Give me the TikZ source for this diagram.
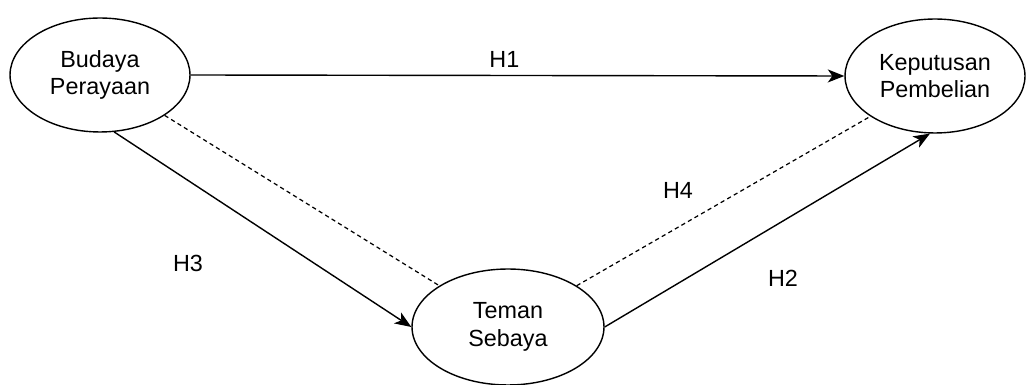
\documentclass[tikz,border=0pt]{standalone}
\usepackage{fontspec}
\setmainfont{Liberation Sans}
\usetikzlibrary{arrows.meta, positioning, shapes.geometric}

\begin{document}
\begin{tikzpicture}[
  x=0.02cm, y=0.02cm,
  font=\fontsize{13.3}{15.6}\selectfont,
  >={Stealth[length=3.3mm, width=2.6mm, inset=0.9mm]},
  var/.style={ellipse, draw, line width=0.8pt, align=center, inner sep=0pt,
              minimum width=3.6cm, minimum height=2.28cm},
  arr/.style={->, line width=0.8pt},
  link/.style={line width=0.7pt, dash pattern=on 2.4pt off 1.9pt},
  hyp/.style={inner sep=1pt},
  ]
\useasboundingbox (0,0) rectangle (1031,385);

\node[var] (bp) at (100,310) {Budaya\\Perayaan};
\node[var] (kp) at (935,309) {Keputusan\\Pembelian};
\node[var, minimum width=3.84cm, minimum height=2.32cm] (ts) at (508,58) {Teman\\Sebaya};

\node[hyp] (h3) at (188,122) {H3};
\node[hyp] (h4) at (678,195) {H4};
\node[hyp] (h2) at (783,107) {H2};

\draw[arr] (bp.east) -- node[above=3pt, pos=0.48, hyp] (h1) {H1} (kp.west);
\draw[arr] (bp.-76) -- (ts.west);
\draw[arr] (ts.east) -- (kp.-95);

% dashed links through the mediator
\draw[link] (bp.-32) -- (ts.149);
\draw[link] (ts.31) -- (kp.-148);
\end{tikzpicture}
\end{document}
